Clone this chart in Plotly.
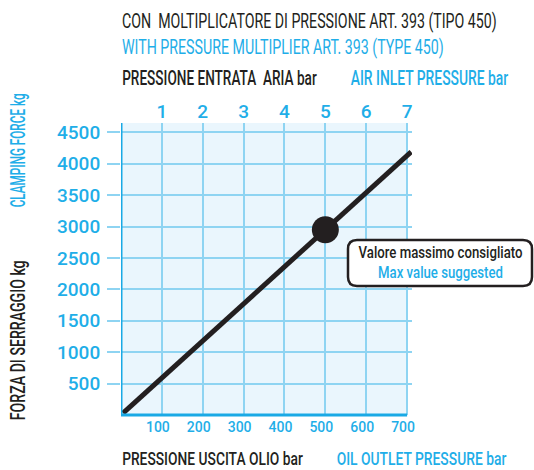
import json
import plotly.graph_objects as go

# Data
oil_pressure_bar = [5, 500, 710]          # oil outlet pressure (bar)
clamping_force_kg = [30, 2950, 4190]      # clamping force (kg)
max_point_oil = [500]
max_point_force = [2950]
oil_ticks = [100, 200, 300, 400, 500, 600, 700]
air_ticks = ["1", "2", "3", "4", "5", "6", "7"]
force_ticks = [500, 1000, 1500, 2000, 2500, 3000, 3500, 4000, 4500]

BLUE = "#1FAEE8"
GRID = "#8ED4F2"
BLACK = "#231F20"
FONT = "Roboto, 'Liberation Sans', sans-serif"

L, R, T, B = 121, 122, 123, 55
W, H = 534, 470
PW, PH = W - L - R, H - T - B
def px(x): return (x - L) / PW
def py(y): return (H - B - y) / PH

fig = go.Figure()
fig.add_trace(go.Scatter(x=oil_pressure_bar, y=clamping_force_kg, mode="lines",
                         line=dict(color=BLACK, width=5), showlegend=False, hoverinfo="skip"))
fig.add_trace(go.Scatter(x=max_point_oil, y=max_point_force, mode="markers",
                         marker=dict(color=BLACK, size=27), showlegend=False, cliponaxis=False))
fig.add_trace(go.Scatter(x=oil_ticks, y=[None]*len(oil_ticks), xaxis="x2", showlegend=False, hoverinfo="skip"))

# background of grid area
fig.add_shape(type="rect", xref="x", yref="paper", x0=0, x1=oil_ticks[-1], y0=0, y1=1,
              fillcolor="#EAF6FD", line_width=0, layer="below")

fig.update_layout(
    width=W, height=H, margin=dict(l=L, r=R, t=T, b=B),
    paper_bgcolor="white", plot_bgcolor="rgba(0,0,0,0)",
    xaxis=dict(range=[0, 712], tickvals=oil_ticks, showgrid=True, gridcolor=GRID, gridwidth=1.5,
               showline=False, zeroline=False, ticks="", ticklabelshift=-4,
               tickfont=dict(family=FONT, size=14, color=BLUE, weight=500), ticklabelstandoff=2),
    xaxis2=dict(overlaying="x", side="top", range=[0, 712], tickvals=oil_ticks, ticktext=air_ticks,
                showgrid=False, zeroline=False, ticks="",
                tickfont=dict(family=FONT, size=19, color=BLUE, weight=500)),
    yaxis=dict(range=[0, 4650], tickvals=force_ticks, showgrid=True, gridcolor=GRID, gridwidth=1.5,
               zeroline=False, showline=False, ticks="outside", ticklen=13, tickwidth=1.5, tickcolor=GRID,
               tickfont=dict(family=FONT, size=19, color=BLUE, weight=500), ticklabelstandoff=3),
)

# thick axis lines
fig.add_shape(type="line", xref="x", yref="paper", x0=0, x1=0, y0=0, y1=1, line=dict(color="#19A9E5", width=3))
fig.add_shape(type="line", xref="x", yref="paper", x0=0, x1=oil_ticks[-1], y0=0, y1=0, line=dict(color="#19A9E5", width=3))

# rounded callout box
bx0, bx1, by0, by1, rr = 348, 532, 240, 286, 9
def P(x, y): return "%.5f,%.5f" % (px(x), py(y))
path = ("M " + P(bx0 + rr, by0) + " L " + P(bx1 - rr, by0) + " Q " + P(bx1, by0) + " " + P(bx1, by0 + rr) +
        " L " + P(bx1, by1 - rr) + " Q " + P(bx1, by1) + " " + P(bx1 - rr, by1) +
        " L " + P(bx0 + rr, by1) + " Q " + P(bx0, by1) + " " + P(bx0, by1 - rr) +
        " L " + P(bx0, by0 + rr) + " Q " + P(bx0, by0) + " " + P(bx0 + rr, by0) + " Z")
fig.add_shape(type="path", xref="paper", yref="paper", path=path, fillcolor="white",
              line=dict(color=BLACK, width=2.5), layer="above")

# text items: (text, centre x px, centre y px, colour, size, weight, angle, target width px)
texts = [
    ("CON  MOLTIPLICATORE DI PRESSIONE ART. 393 (TIPO 450)", 309, 20.5, BLACK, 21, 400, 0, 375),
    ("WITH PRESSURE MULTIPLIER ART. 393 (TYPE 450)", 282.5, 47, BLUE, 21, 400, 0, 322),
    ("PRESSIONE ENTRATA  ARIA bar", 219, 78.5, BLACK, 21, 500, 0, 195),
    ("AIR INLET PRESSURE bar", 429, 78.5, BLUE, 21, 500, 0, 158),
    ("PRESSIONE USCITA OLIO bar", 212, 458, BLACK, 19, 500, 0, 181),
    ("OIL OUTLET PRESSURE bar", 421.5, 458, BLUE, 19, 500, 0, 170),
    ("CLAMPING FORCE kg", 18.5, 150, BLUE, 20, 500, -90, 114),
    ("FORZA DI SERRAGGIO kg", 18.5, 340, BLACK, 20, 500, -90, 160),
    ("Valore massimo consigliato", 440, 252, BLACK, 17, 500, 0, 164),
    ("Max value suggested", 440, 272, BLUE, 17, 500, 0, 125),
]
widths = {}
for i, (txt, cx, cy, col, sz, wt, ang, tw) in enumerate(texts):
    fig.add_annotation(text=txt, xref="paper", yref="paper", x=px(cx), y=py(cy), xanchor="center",
                       yanchor="middle", showarrow=False, textangle=ang, borderpad=0,
                       font=dict(family=FONT, size=sz, color=col, weight=wt))
    widths[str(i)] = tw

js = """
document.body.style.margin='0';document.body.style.overflow='hidden';
var TW = %s;
var gd = document.getElementById('{plot_id}');
function fitText(){
  gd.querySelectorAll('g.annotation').forEach(function(g){
    var w = TW[g.getAttribute('data-index')]; if(!w) return;
    var t = g.querySelector('text.annotation-text'); if(!t) return;
    t.style.transform='none';
    var bw = t.getBBox().width; if(!bw) return;
    t.style.transformBox='fill-box'; t.style.transformOrigin='50%% 50%%';
    t.style.transform='scaleX(' + (w/bw) + ')';
  });
}
fitText(); gd.on('plotly_afterplot', fitText);
""" % json.dumps(widths)

fig.write_html("out.html", config={"displayModeBar": False}, post_script=js)
